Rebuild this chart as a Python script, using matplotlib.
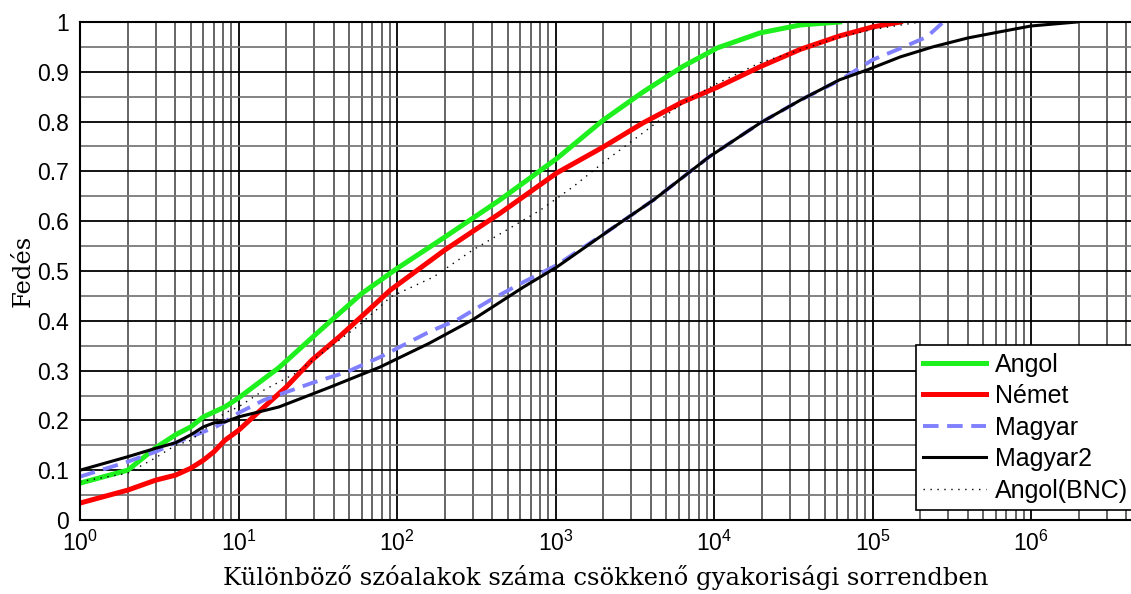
import numpy as np
import matplotlib
matplotlib.use('Agg')
from matplotlib import pyplot as plt
from matplotlib.ticker import FixedLocator, FuncFormatter, NullFormatter

plt.rcParams['font.family'] = ['Liberation Sans', 'DejaVu Sans']
plt.rcParams['mathtext.fontset'] = 'custom'
plt.rcParams['mathtext.rm'] = 'Liberation Sans'
plt.rcParams['mathtext.it'] = 'Liberation Sans'

# lefedettség a szóalakok számának függvényében
angol_x = [1, 2, 3, 4, 5, 6, 7, 8.2, 10, 18, 32, 60, 100, 200, 447, 1020,
           2000, 3550, 6300, 10500, 19500, 35000, 62000]
angol_y = [0.074, 0.100, 0.145, 0.171, 0.187, 0.207, 0.217, 0.227, 0.245,
           0.306, 0.378, 0.455, 0.505, 0.568, 0.643, 0.726, 0.803, 0.859,
           0.910, 0.948, 0.978, 0.994, 1.0]

nemet_x = [1, 2, 3, 4, 5, 6, 7, 8.2, 10, 14.5, 20, 29, 44, 68, 91, 200,
           447, 1020, 2000, 3550, 6300, 10500, 19500, 35000, 62000, 100000,
           150000]
nemet_y = [0.034, 0.060, 0.080, 0.090, 0.104, 0.120, 0.137, 0.160, 0.180,
           0.227, 0.267, 0.321, 0.370, 0.425, 0.462, 0.542, 0.616, 0.697,
           0.749, 0.797, 0.839, 0.869, 0.910, 0.945, 0.972, 0.990, 1.0]

magyar_x = [1, 2, 3, 4, 5, 6, 7, 8.2, 10, 14.5, 29, 48, 78, 160, 240, 390,
            630, 1020, 2190, 4170, 9300, 19500, 35000, 63000, 100000, 150000,
            220000, 280000]
magyar_y = [0.087, 0.117, 0.137, 0.155, 0.167, 0.177, 0.185, 0.197, 0.215,
            0.241, 0.275, 0.297, 0.327, 0.378, 0.402, 0.442, 0.478, 0.512,
            0.582, 0.643, 0.729, 0.797, 0.843, 0.884, 0.924, 0.947, 0.970,
            1.0]

magyar2_x = [1, 2, 3, 4, 5, 6, 7, 8.2, 10, 18, 38, 78, 160, 300, 630, 1020,
             2190, 4170, 9300, 19500, 35000, 62000, 93000, 150000, 240000,
             400000, 630000, 1000000, 1950000]
magyar2_y = [0.100, 0.127, 0.144, 0.155, 0.171, 0.187, 0.195, 0.197, 0.207,
             0.227, 0.267, 0.307, 0.355, 0.402, 0.468, 0.508, 0.582, 0.643,
             0.729, 0.797, 0.843, 0.884, 0.904, 0.930, 0.950, 0.968, 0.980,
             0.992, 1.0]

bnc_x = [1, 2, 3, 4, 5, 8.2, 10, 14.5, 23, 38, 56, 78, 91, 170, 300, 490,
         800, 1290, 2100, 3550, 6300, 10500, 19500, 35000, 62000, 100000,
         200000, 1000000]
bnc_y = [0.077, 0.094, 0.125, 0.150, 0.160, 0.215, 0.227, 0.261, 0.295,
         0.348, 0.388, 0.428, 0.448, 0.488, 0.542, 0.582, 0.622, 0.669,
         0.723, 0.777, 0.837, 0.877, 0.918, 0.944, 0.970, 0.985, 1.0, 1.0]

decades = [10.0 ** k for k in range(0, 7)]
fig = plt.figure(figsize=(11.31, 5.94), dpi=100)
ax = fig.add_axes([80 / 1131, 1 - 520 / 594, 1 - 80 / 1131, (520 - 22) / 594])

ax.plot(angol_x, angol_y, color='#1ef01e', lw=3.6, label='Angol')
ax.plot(nemet_x, nemet_y, color='#ff0000', lw=3.6, label='Német')
ax.plot(magyar_x, magyar_y, color='#8080ff', lw=2.8, ls=(0, (4, 2.2)),
        label='Magyar')
ax.plot(magyar2_x, magyar2_y, color='black', lw=2.2, label='Magyar2')
ax.plot(bnc_x, bnc_y, color='black', lw=1.0, ls=(0, (1, 4)),
        label='Angol(BNC)')

ax.set_xscale('log')
xmax = 10 ** ((1131 - 80) / 158.5)
ax.set_xlim(1, xmax)
ax.set_ylim(0, 1)

minor = [d * m for d in decades for m in range(2, 10) if d * m < xmax]
ax.xaxis.set_major_locator(FixedLocator(decades))
ax.xaxis.set_minor_locator(FixedLocator(minor))
ax.xaxis.set_major_formatter(FuncFormatter(
    lambda v, p: r'$10^{%d}$' % round(np.log10(v))))
ax.xaxis.set_minor_formatter(NullFormatter())
ax.yaxis.set_major_locator(FixedLocator(np.arange(0, 1.01, 0.1)))
ax.yaxis.set_minor_locator(FixedLocator(np.arange(0.05, 1.0, 0.1)))
ax.yaxis.set_major_formatter(FuncFormatter(lambda v, p: '%g' % round(v, 2)))

ax.grid(True, which='major', axis='both', color='black', lw=1.3)
ax.grid(True, which='minor', axis='x', color='#3c3c3c', lw=1.1)
ax.grid(True, which='minor', axis='y', color='#7a7a7a', lw=1.3)
ax.set_axisbelow(True)

ax.tick_params(which='both', length=0, labelsize=16.5)
ax.tick_params(axis='y', pad=8)
ax.tick_params(axis='x', pad=8)
for s in ['left', 'bottom', 'top']:
    ax.spines[s].set_linewidth(1.5)
ax.spines['right'].set_visible(False)

ax.set_xlabel('Különböző szóalakok száma csökkenő gyakorisági sorrendben',
              family='DejaVu Serif', fontsize=17.5, labelpad=6)
ax.set_ylabel('Fedés', family='DejaVu Serif', fontsize=17.5, labelpad=2)

leg = ax.legend(loc='lower right', bbox_to_anchor=(1.004, 0.02),
                fontsize=18, frameon=True, fancybox=False, framealpha=1,
                edgecolor='black', handlelength=2.5, handletextpad=0.36,
                labelspacing=0.3, borderpad=0.3, borderaxespad=0)
leg.get_frame().set_linewidth(1.2)

fig.savefig('out.png', dpi=100)
